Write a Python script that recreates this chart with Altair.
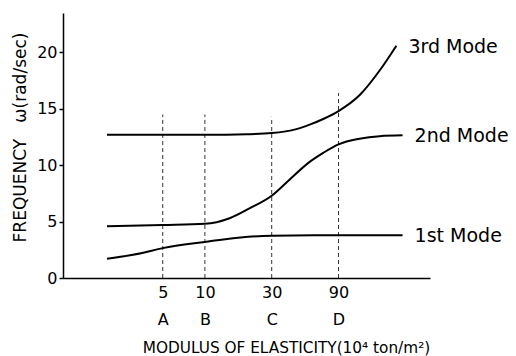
import altair as alt
import pandas as pd

# ---- data ----
mode1_x = [2, 3.5, 5, 10, 18, 30, 60, 90, 258]
mode1_y = [1.7, 2.2, 2.65, 3.2, 3.6, 3.75, 3.8, 3.8, 3.8]
mode2_x = [2, 5, 10, 15, 21, 30, 40, 56, 70, 90, 127, 177, 258]
mode2_y = [4.6, 4.7, 4.8, 5.3, 6.2, 7.3, 8.7, 10.3, 11.1, 11.85, 12.35, 12.58, 12.65]
mode3_x = [2, 5, 10, 20, 30, 45, 56, 70, 90, 127, 177, 233]
mode3_y = [12.7, 12.7, 12.7, 12.75, 12.85, 13.2, 13.6, 14.1, 14.8, 16.2, 18.4, 20.6]
mode_names = ["1st Mode", "2nd Mode", "3rd Mode"]

tick_values = [5, 10, 30, 90]
tick_letters = ["A", "B", "C", "D"]
dash_tops = [14.5, 14.5, 14.3, 16.4]
y_ticks = [0, 5, 10, 15, 20]

rows = []
for name, xs, ys in zip(mode_names, [mode1_x, mode2_x, mode3_x], [mode1_y, mode2_y, mode3_y]):
    for xv, yv in zip(xs, ys):
        rows.append({"mode": name, "E": xv, "w": yv})
curves = pd.DataFrame(rows)
ends = curves.groupby("mode").tail(1)
dashes = pd.DataFrame({"E": tick_values, "top": dash_tops, "bottom": [0] * 4})

letter_expr = " : ".join(
    f"datum.value == {v} ? '{l}'" for v, l in zip(tick_values[:-1], tick_letters[:-1])
) + f" : '{tick_letters[-1]}'"
label_expr = f"[format(datum.value, 'd'), {letter_expr}]"

FONT = "DejaVu Sans"
xscale = alt.Scale(type="log", domain=[0.97, 405], nice=False)
yscale = alt.Scale(domain=[0, 23.5], nice=False)

xaxis = alt.Axis(
    values=tick_values, labelExpr=label_expr, ticks=False, grid=False,
    domainColor="black", domainWidth=1.5, labelColor="black", labelFont=FONT,
    labelFontSize=16, labelLineHeight=27, labelPadding=6, labelBaseline="top",
    title="MODULUS OF ELASTICITY(10⁴ ton/m²)", titleFont=FONT, titleFontSize=15.3,
    titleFontWeight="normal", titleColor="black",
    titleX=223, titleY=74, titleAlign="center", titleBaseline="alphabetic",
)
yaxis = alt.Axis(
    values=y_ticks, grid=False, domainColor="black", domainWidth=1.5,
    tickColor="black", tickWidth=1.5, tickSize=4, labelColor="black",
    labelFont=FONT, labelFontSize=16, labelPadding=2,
    title="FREQUENCY\u00a0\u00a0\u00a0ω(rad/sec)", titleFont=FONT, titleFontSize=17,
    titleFontWeight="normal", titleColor="black",
    titleX=-38, titleY=124, titleAngle=270, titleAlign="center", titleBaseline="alphabetic",
)

lines = alt.Chart(curves).mark_line(color="black", strokeWidth=2, interpolate="monotone").encode(
    x=alt.X("E:Q", scale=xscale, axis=xaxis),
    y=alt.Y("w:Q", scale=yscale, axis=yaxis),
    detail="mode:N",
)
rules = alt.Chart(dashes).mark_rule(color="#333", strokeWidth=1, strokeDash=[4, 3]).encode(
    x="E:Q", y="bottom:Q", y2="top:Q"
)
labels = alt.Chart(ends).mark_text(
    align="left", baseline="middle", dx=12, dy=1, font=FONT, fontSize=19, color="black"
).encode(x="E:Q", y="w:Q", text="mode:N")

chart = alt.layer(rules, lines, labels).properties(
    width=367, height=265,
    autosize=alt.AutoSizeParams(type="none"),
    padding={"left": 55, "top": 5, "right": 78, "bottom": 78},
).configure_view(stroke=None)

chart.save("out.html", embed_options={"renderer": "svg", "actions": False})
